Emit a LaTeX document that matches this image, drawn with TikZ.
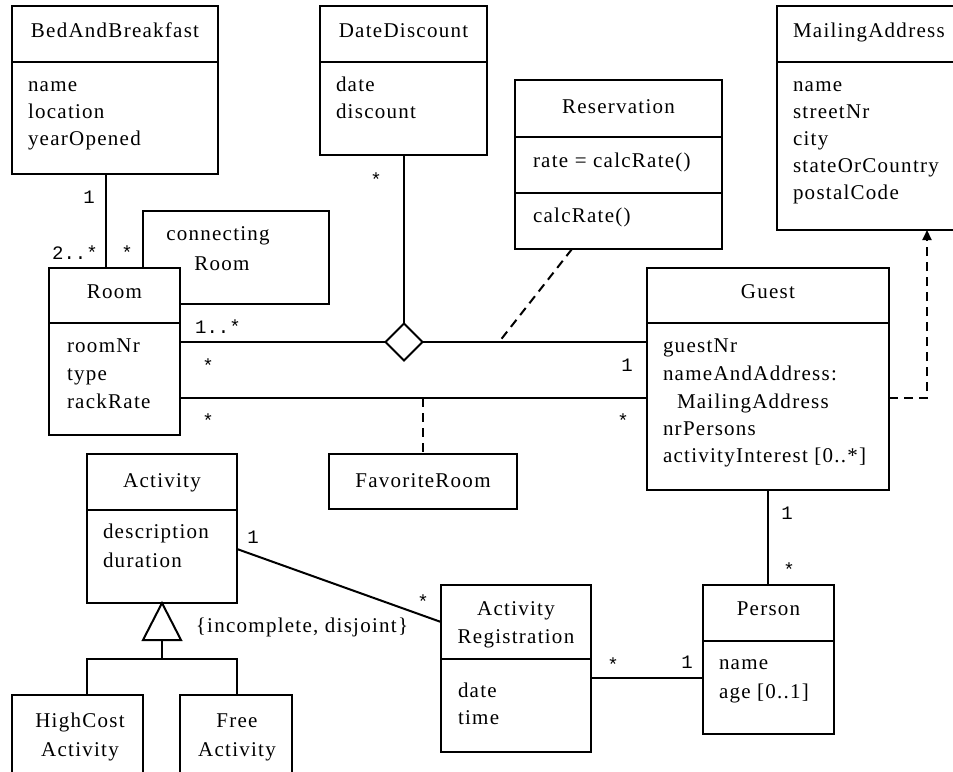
\documentclass[tikz,border=0pt]{standalone}
\usepackage{fontspec}
\setmainfont{Liberation Serif}[LetterSpace=6]
\newfontfamily\multfont{Liberation Mono}
\usetikzlibrary{shapes.geometric,arrows.meta,fit}

\begin{document}
\begin{tikzpicture}[x=1pt,y=-1pt,
  every node/.style={inner sep=0pt, outer sep=0pt},
  box/.style={draw, line width=2pt, rectangle, fit={#1}},
  txt/.style={font=\fontsize{21}{26}\selectfont},
  attr/.style={txt, anchor=base west},
  ttl/.style={txt, anchor=base},
  mult/.style={font=\multfont\fontsize{19}{22}\selectfont, text height=12pt, text depth=0pt},
  multstar/.style={mult, yshift=-3pt},
  conn/.style={line width=2pt},
  dep/.style={line width=2pt, dash pattern=on 9pt off 6pt},
]
\useasboundingbox (0,0) rectangle (953,771);

% ---------- classes ----------
% BedAndBreakfast
\node[box={(12,6) (218,174)}] (bnb) {};
\draw[conn] (bnb.west |- 0,62) -- (bnb.east |- 0,62);
\node[ttl] (bnbT) at (115,37) {BedAndBreakfast};
\node[attr] (bnbA1) at (28,91) {name};
\node[attr] (bnbA2) at (28,118) {location};
\node[attr] (bnbA3) at (28,145) {yearOpened};

% DateDiscount
\node[box={(320,6) (487,155)}] (dd) {};
\draw[conn] (dd.west |- 0,62) -- (dd.east |- 0,62);
\node[ttl] (ddT) at (403.5,37) {DateDiscount};
\node[attr] (ddA1) at (336,91) {date};
\node[attr] (ddA2) at (336,118) {discount};

% Reservation
\node[box={(515,80) (722,249)}] (res) {};
\draw[conn] (res.west |- 0,137) -- (res.east |- 0,137);
\draw[conn] (res.west |- 0,193) -- (res.east |- 0,193);
\node[ttl] (resT) at (618.5,113) {Reservation};
\node[attr] (resA1) at (533,167) {rate = calcRate()};
\node[attr] (resO1) at (533,222) {calcRate()};

% MailingAddress
\node[box={(777,6) (980,230)}] (ma) {};
\draw[conn] (ma.west |- 0,62) -- (ma.east |- 0,62);
\node[attr] (maT) at (793,37) {MailingAddress};
\node[attr] (maA1) at (793,91) {name};
\node[attr] (maA2) at (793,118) {streetNr};
\node[attr] (maA3) at (793,145) {city};
\node[attr] (maA4) at (793,172) {stateOrCountry};
\node[attr] (maA5) at (793,199) {postalCode};

% Room
\node[box={(49,268) (180,435)}] (room) {};
\draw[conn] (room.west |- 0,323) -- (room.east |- 0,323);
\node[ttl] (roomT) at (114.5,298) {Room};
\node[attr] (roomA1) at (67,352) {roomNr};
\node[attr] (roomA2) at (67,380) {type};
\node[attr] (roomA3) at (67,408) {rackRate};

% Guest
\node[box={(647,268) (889,490)}] (guest) {};
\draw[conn] (guest.west |- 0,323) -- (guest.east |- 0,323);
\node[ttl] (guestT) at (768,298) {Guest};
\node[attr] (guestA1) at (663,352) {guestNr};
\node[attr] (guestA2) at (663,380) {nameAndAddress:};
\node[attr] (guestA2b) at (677,408) {MailingAddress};
\node[attr] (guestA3) at (663,435) {nrPersons};
\node[attr] (guestA4) at (663,462) {activityInterest [0..*]};

% FavoriteRoom (association class)
\node[box={(329,454) (517,509)}] (fav) {};
\node[ttl] (favT) at (423,487) {FavoriteRoom};

% Activity
\node[box={(87,454) (237,603)}] (act) {};
\draw[conn] (act.west |- 0,510) -- (act.east |- 0,510);
\node[ttl] (actT) at (162,487) {Activity};
\node[attr] (actA1) at (103,538) {description};
\node[attr] (actA2) at (103,567) {duration};

% HighCostActivity and FreeActivity
\node[box={(12,695) (143,790)}] (hca) {};
\node[ttl] (hcaT1) at (80,727) {HighCost};
\node[ttl] (hcaT2) at (80,756) {Activity};
\node[box={(180,695) (292,790)}] (fa) {};
\node[ttl] (faT1) at (237,727) {Free};
\node[ttl] (faT2) at (237,756) {Activity};

% ActivityRegistration
\node[box={(441,585) (591,752)}] (ar) {};
\draw[conn] (ar.west |- 0,659) -- (ar.east |- 0,659);
\node[ttl] (arT1) at (516,615) {Activity};
\node[ttl] (arT2) at (516,643) {Registration};
\node[attr] (arA1) at (458,697) {date};
\node[attr] (arA2) at (458,724) {time};

% Person
\node[box={(703,585) (834,734)}] (per) {};
\draw[conn] (per.west |- 0,641) -- (per.east |- 0,641);
\node[ttl] (perT) at (768.5,615) {Person};
\node[attr] (perA1) at (719,669) {name};
\node[attr] (perA2) at (719,698) {age [0..1]};

% ---------- associations ----------
% BedAndBreakfast -- Room
\draw[conn] (bnb.south -| 106,0) -- (room.north -| 106,0);
\node[mult] (mBnb1) at (89,197) {1};
\node[mult] (mBnbRoom) at (75,253) {2..*};

% connectingRoom (reflexive)
\coordinate (crA) at (329,211);
\coordinate (crB) at (329,304);
\draw[conn] (room.north -| 143,0) -- (143,211) -- (crA) -- (crB) -- (room.east |- crB);
\node[multstar] (mCr) at (127,250) {*};
\node[txt, anchor=base] (crL1) at (218,240) {connecting};
\node[txt, anchor=base] (crL2) at (222,270) {Room};

% ternary association Room - Guest - DateDiscount
\node[draw, diamond, line width=2pt, minimum width=37pt, minimum height=37pt, fill=white] (tern) at (404,342) {};
\draw[conn] (room.east |- tern) -- (tern.west);
\draw[conn] (tern.east) -- (guest.west |- tern);
\draw[conn] (tern.north) -- (dd.south -| tern);
\node[multstar] (mDd) at (376,177) {*};
\node[mult] (mTernRoom) at (218,327) {1..*};
\node[multstar] (mTernRoom2) at (208,363) {*};
\node[mult] (mTernGuest) at (627,365) {1};

% Reservation as association class of the ternary link
\coordinate (ternLink) at (499,342);
\draw[dep] (res.south -| 572,0) -- (ternLink);

% FavoriteRoom association Room -- Guest
\coordinate (favLink) at (423,398);
\draw[conn] (room.east |- favLink) -- (guest.west |- favLink);
\draw[dep] (favLink) -- (fav.north);
\node[multstar] (mFavRoom) at (208,418) {*};
\node[multstar] (mFavGuest) at (623,418) {*};

% Guest uses MailingAddress
\coordinate (maBend) at (927,398);
\draw[dep, -{Triangle[length=10pt,width=9pt]}] (guest.east |- maBend) -- (maBend) -- (ma.south -| maBend);

% Guest -- Person
\draw[conn] (guest.south -| 768,0) -- (per.north -| 768,0);
\node[mult] (mGuestP) at (787,513) {1};
\node[multstar] (mPersonG) at (789,567) {*};

% Activity -- ActivityRegistration
\draw[conn] (act.east |- 0,549) -- (ar.west |- 0,622);
\node[mult] (mAct) at (253,537) {1};
\node[multstar] (mActReg) at (423,599) {*};

% ActivityRegistration -- Person
\draw[conn] (ar.east |- 0,678) -- (per.west |- 0,678);
\node[multstar] (mArP) at (613,662) {*};
\node[mult] (mPAr) at (687,662) {1};

% generalization Activity <- HighCostActivity, FreeActivity
\coordinate (genApex) at (162,603);
\coordinate (genBase) at (162,640);
\coordinate (genJoin) at (162,659);
\draw[conn, fill=white] (genApex) -- (181,640) -- (143,640) -- cycle;
\draw[conn] (genBase) -- (genJoin);
\draw[conn] (hca.north -| 87,0) -- (87,659) -- (237,659) -- (fa.north -| 237,0);
\node[txt, anchor=base] (genLbl) at (302,632) {\{incomplete, disjoint\}};

\end{tikzpicture}
\end{document}
